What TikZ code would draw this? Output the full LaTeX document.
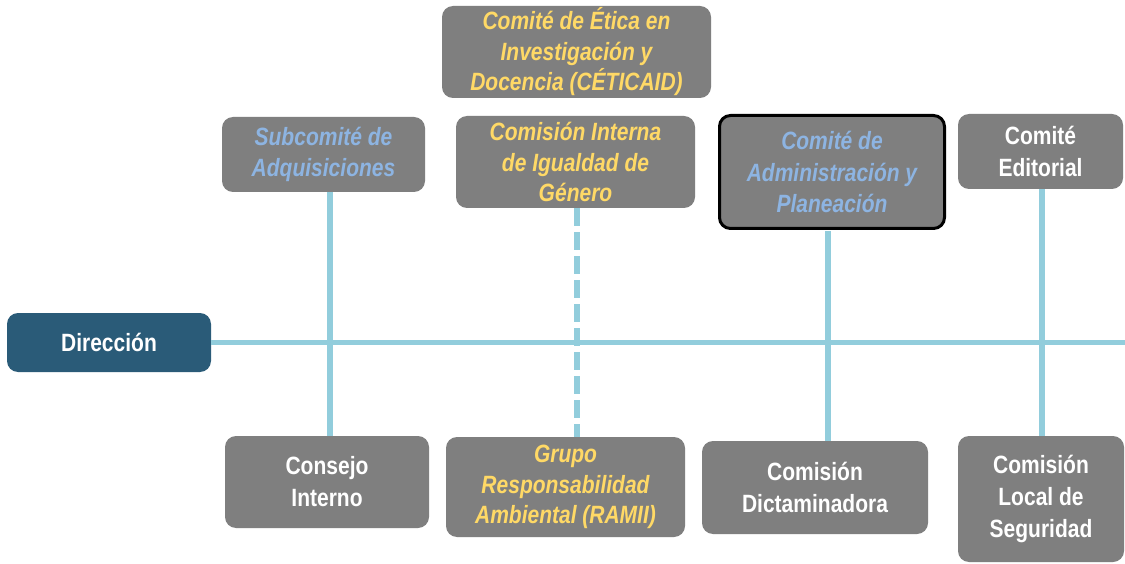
\documentclass[tikz,border=0pt]{standalone}
\usepackage{fontspec}
\setmainfont[FakeStretch=0.84]{Liberation Sans}
\definecolor{boxgray}{HTML}{7F7F7F}
\definecolor{dirblue}{HTML}{2A5B78}
\definecolor{lblue}{HTML}{8DB4E2}
\definecolor{gold}{HTML}{FFD966}
\definecolor{lineblue}{HTML}{92CDDC}
\tikzset{
  box/.style={rectangle, rounded corners=11pt, fill=boxgray, inner sep=0pt, align=center,
    font=\fontsize{25}{32}\selectfont\bfseries, text=white},
  yel/.style={text=gold, font=\fontsize{25}{30.5}\selectfont\bfseries\itshape},
  blu/.style={text=lblue, font=\fontsize{25}{31.5}\selectfont\bfseries\itshape},
  conn/.style={draw=lineblue, line width=5.5pt},
  dconn/.style={conn, dash pattern=on 18pt off 6pt},
}
\begin{document}
\begin{tikzpicture}[x=1pt,y=-1pt]
\useasboundingbox (0,0) rectangle (1125,564);
\fill[white] (0,0) rectangle (1125,564);
% boxes
\node[box, fill=dirblue, minimum width=204pt, minimum height=59pt] (dir) at (109,342.5) {Dirección};
\node[box, blu, minimum width=203pt, minimum height=75pt] (subc) at (323.5,154.5) {Subcomité de\\Adquisiciones};
\node[box, yel, minimum width=269pt, minimum height=92pt] (etica) at (576.5,52) {Comité de Ética en\\Investigación y\\Docencia (CÉTICAID)};
\node[box, yel, minimum width=239pt, minimum height=92pt] (igual) at (575.5,162) {Comisión Interna\\de Igualdad de\\Género};
\node[box, blu, draw=black, line width=3pt, minimum width=225pt, minimum height=113pt] (admin) at (832,172) {Comité de\\Administración y\\Planeación};
\node[box, minimum width=165pt, minimum height=75pt] (edit) at (1040.5,151.5) {Comité\\Editorial};
\node[box, minimum width=204pt, minimum height=92pt] (cons) at (327,482) {Consejo\\Interno};
\node[box, yel, minimum width=239pt, minimum height=100pt] (grupo) at (565.5,487) {Grupo\\Responsabilidad\\Ambiental (RAMII)};
\node[box, minimum width=226pt, minimum height=93pt] (dict) at (815,487.5) {Comisión\\Dictaminadora};
\node[box, minimum width=166pt, minimum height=126pt] (segu) at (1041,499) {Comisión\\Local de\\Seguridad};
% connector coordinates
\coordinate (xa) at (330,0);
\coordinate (xb) at (577,0);
\coordinate (xc) at (828,0);
\coordinate (xd) at (1042,0);
\coordinate (rend) at (1125,342.5);
% connectors
\draw[conn] (dir.east) -- (rend);
\draw[conn] (subc.south -| xa) -- (cons.north -| xa);
\draw[dconn] (igual.south -| xb) -- (grupo.north -| xb);
\draw[conn] (admin.south -| xc) ++(0,1.5) -- (dict.north -| xc);
\draw[conn] (edit.south -| xd) -- (segu.north -| xd);
\end{tikzpicture}
\end{document}
